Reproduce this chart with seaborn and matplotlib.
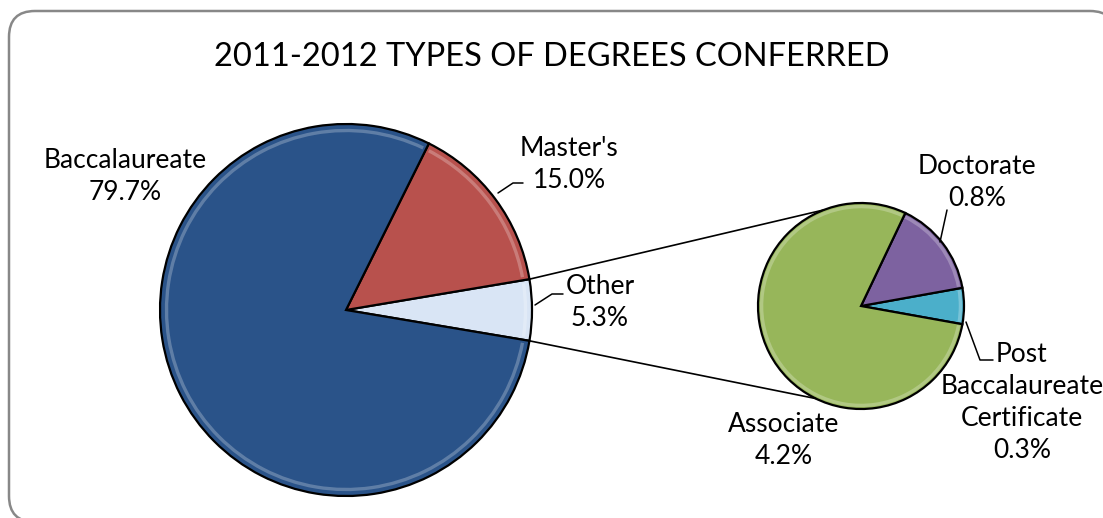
import numpy as np
import seaborn as sns
import matplotlib.pyplot as plt
from matplotlib.patches import FancyBboxPatch, Arc

# main pie
main_labels = ["Other", "Master's", "Baccalaureate"]
main_values = [5.3, 15.0, 79.7]
# breakdown of "Other"
sub_labels = ["Post\nBaccalaureate\nCertificate", "Doctorate", "Associate"]
sub_values = [0.3, 0.8, 4.2]

main_colors = ["#D9E5F5", "#B8514D", "#2A5389"]
sub_colors = ["#4BAFCA", "#7D62A0", "#97B65A"]

W, H = 1103, 518
sns.set_theme(style="white")
plt.rcParams['font.family'] = ['Lato', 'DejaVu Sans']

fig = plt.figure(figsize=(W / 100, H / 100), dpi=100)
ax = fig.add_axes([0, 0, 1, 1])

# rounded frame (runs off the right and bottom edge)
frame = FancyBboxPatch((9, -4), 1107, 511, boxstyle="round,pad=0,rounding_size=26",
                       facecolor="white", edgecolor="#888888", linewidth=1.8, zorder=0)
ax.add_patch(frame)

main_c, main_r = (346, 208), 186
sub_c, sub_r = (861, 212), 103

start_main = -main_values[0] / sum(main_values) * 360 / 2
start_sub = -sub_values[0] / sum(sub_values) * 360 / 2

wedge_kw = dict(edgecolor="black", linewidth=1.6)
w1, _ = ax.pie(main_values, colors=main_colors, startangle=start_main, counterclock=True,
               center=main_c, radius=main_r, wedgeprops=wedge_kw, frame=True)
w2, _ = ax.pie(sub_values, colors=sub_colors, startangle=start_sub, counterclock=True,
               center=sub_c, radius=sub_r, wedgeprops=wedge_kw, frame=True)
ax.set_xlim(0, W)
ax.set_ylim(0, H)
ax.set_aspect('equal')
ax.axis('off')

# soft bevel highlight along the rim of each slice
for wedges in (w1, w2):
    for w in wedges:
        d = 2 * w.r * 0.965
        ax.add_patch(Arc(w.center, d, d, theta1=w.theta1 + 1.0, theta2=w.theta2 - 1.0,
                         edgecolor="white", alpha=0.25, linewidth=2.4))

# connector lines between the Other slice and the sub pie
half = main_values[0] / sum(main_values) * 360 / 2
for a_main, a_sub in [(half, 111), (-half, 244)]:
    p1 = (main_c[0] + main_r * np.cos(np.radians(a_main)), main_c[1] + main_r * np.sin(np.radians(a_main)))
    p2 = (sub_c[0] + sub_r * np.cos(np.radians(a_sub)), sub_c[1] + sub_r * np.sin(np.radians(a_sub)))
    ax.plot([p1[0], p2[0]], [p1[1], p2[1]], color="black", linewidth=1.2)

txt = dict(fontsize=19, ha="center", va="center", color="black", linespacing=1.35)
ax.text(W / 2, H - 57, "2011-2012 TYPES OF DEGREES CONFERRED", fontsize=23.5,
        ha="center", va="center", color="black")

ax.text(125, H - 177, f"{main_labels[2]}\n{main_values[2]:.1f}%", **txt)
ax.text(569, H - 164, f"{main_labels[1]}\n{main_values[1]:.1f}%", **txt)
ax.plot([498, 513, 523], [H - 193, H - 183, H - 183], color="black", lw=1.1)
ax.text(600, H - 302, f"{main_labels[0]}\n{main_values[0]:.1f}%", **txt)
ax.plot([535, 552, 563], [H - 305, H - 294, H - 294], color="black", lw=1.1)

ax.text(977, H - 183, f"{sub_labels[1]}\n{sub_values[1]:.1f}%", **txt)
ax.plot([940, 947], [H - 242, H - 210], color="black", lw=1.1)
ax.text(1022, H - 402, f"{sub_labels[0]}\n{sub_values[0]:.1f}%", **txt)
ax.plot([966, 980, 993], [H - 322, H - 360, H - 360], color="black", lw=1.1)
ax.text(784, H - 440, f"{sub_labels[2]}\n{sub_values[2]:.1f}%", **txt)

fig.savefig("out.png", dpi=100)
